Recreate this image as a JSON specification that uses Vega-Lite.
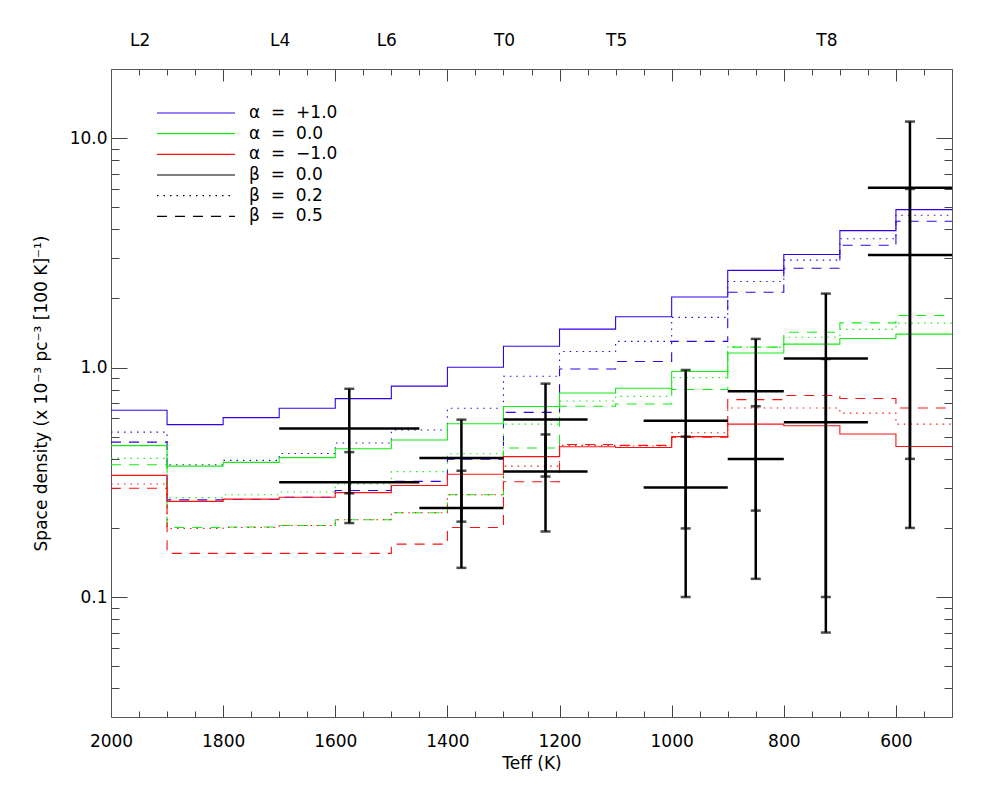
{
  "$schema": "https://vega.github.io/schema/vega-lite/v6.json",
  "width": 841,
  "height": 648,
  "padding": {"left": 32, "top": 31, "right": 24, "bottom": 6},
  "background": "white",
  "config": {
    "font": "DejaVu Sans",
    "view": {"stroke": null},
    "axis": {
      "grid": false,
      "domainColor": "#555555",
      "domainWidth": 1,
      "tickColor": "#444444",
      "tickWidth": 1,
      "labelColor": "black",
      "labelFontSize": 17,
      "labelFont": "DejaVu Sans",
      "titleFont": "DejaVu Sans",
      "titleFontSize": 17,
      "titleFontWeight": "normal",
      "titleColor": "black",
      "labelOverlap": false,
      "labelFlush": false
    },
    "legend": {
      "labelFont": "DejaVu Sans",
      "labelFontSize": 17,
      "labelColor": "black"
    }
  },
  "datasets": {
    "hist": [
      {"a": "+1.0", "b": "0.0", "t": 2000, "v": 0.651}, {"a": "+1.0", "b": "0.0", "t": 1900, "v": 0.564}, {"a": "+1.0", "b": "0.0", "t": 1800, "v": 0.605}, {"a": "+1.0", "b": "0.0", "t": 1700, "v": 0.665}, {"a": "+1.0", "b": "0.0", "t": 1600, "v": 0.732}, {"a": "+1.0", "b": "0.0", "t": 1500, "v": 0.83}, {"a": "+1.0", "b": "0.0", "t": 1400, "v": 1.003}, {"a": "+1.0", "b": "0.0", "t": 1300, "v": 1.239}, {"a": "+1.0", "b": "0.0", "t": 1200, "v": 1.47}, {"a": "+1.0", "b": "0.0", "t": 1100, "v": 1.664}, {"a": "+1.0", "b": "0.0", "t": 1000, "v": 2.03}, {"a": "+1.0", "b": "0.0", "t": 900, "v": 2.65}, {"a": "+1.0", "b": "0.0", "t": 800, "v": 3.11}, {"a": "+1.0", "b": "0.0", "t": 700, "v": 3.95}, {"a": "+1.0", "b": "0.0", "t": 600, "v": 4.88}, {"a": "+1.0", "b": "0.0", "t": 500, "v": 4.88},
      {"a": "+1.0", "b": "0.2", "t": 2000, "v": 0.523}, {"a": "+1.0", "b": "0.2", "t": 1900, "v": 0.377}, {"a": "+1.0", "b": "0.2", "t": 1800, "v": 0.394}, {"a": "+1.0", "b": "0.2", "t": 1700, "v": 0.422}, {"a": "+1.0", "b": "0.2", "t": 1600, "v": 0.469}, {"a": "+1.0", "b": "0.2", "t": 1500, "v": 0.534}, {"a": "+1.0", "b": "0.2", "t": 1400, "v": 0.665}, {"a": "+1.0", "b": "0.2", "t": 1300, "v": 0.916}, {"a": "+1.0", "b": "0.2", "t": 1200, "v": 1.174}, {"a": "+1.0", "b": "0.2", "t": 1100, "v": 1.30}, {"a": "+1.0", "b": "0.2", "t": 1000, "v": 1.654}, {"a": "+1.0", "b": "0.2", "t": 900, "v": 2.37}, {"a": "+1.0", "b": "0.2", "t": 800, "v": 2.94}, {"a": "+1.0", "b": "0.2", "t": 700, "v": 3.64}, {"a": "+1.0", "b": "0.2", "t": 600, "v": 4.61}, {"a": "+1.0", "b": "0.2", "t": 500, "v": 4.61},
      {"a": "+1.0", "b": "0.5", "t": 2000, "v": 0.473}, {"a": "+1.0", "b": "0.5", "t": 1900, "v": 0.265}, {"a": "+1.0", "b": "0.5", "t": 1800, "v": 0.266}, {"a": "+1.0", "b": "0.5", "t": 1700, "v": 0.272}, {"a": "+1.0", "b": "0.5", "t": 1600, "v": 0.291}, {"a": "+1.0", "b": "0.5", "t": 1500, "v": 0.319}, {"a": "+1.0", "b": "0.5", "t": 1400, "v": 0.399}, {"a": "+1.0", "b": "0.5", "t": 1300, "v": 0.638}, {"a": "+1.0", "b": "0.5", "t": 1200, "v": 0.986}, {"a": "+1.0", "b": "0.5", "t": 1100, "v": 1.062}, {"a": "+1.0", "b": "0.5", "t": 1000, "v": 1.30}, {"a": "+1.0", "b": "0.5", "t": 900, "v": 2.13}, {"a": "+1.0", "b": "0.5", "t": 800, "v": 2.71}, {"a": "+1.0", "b": "0.5", "t": 700, "v": 3.41}, {"a": "+1.0", "b": "0.5", "t": 600, "v": 4.34}, {"a": "+1.0", "b": "0.5", "t": 500, "v": 4.34},
      {"a": "0.0", "b": "0.0", "t": 2000, "v": 0.457}, {"a": "0.0", "b": "0.0", "t": 1900, "v": 0.372}, {"a": "0.0", "b": "0.0", "t": 1800, "v": 0.386}, {"a": "0.0", "b": "0.0", "t": 1700, "v": 0.405}, {"a": "0.0", "b": "0.0", "t": 1600, "v": 0.443}, {"a": "0.0", "b": "0.0", "t": 1500, "v": 0.483}, {"a": "0.0", "b": "0.0", "t": 1400, "v": 0.569}, {"a": "0.0", "b": "0.0", "t": 1300, "v": 0.676}, {"a": "0.0", "b": "0.0", "t": 1200, "v": 0.775}, {"a": "0.0", "b": "0.0", "t": 1100, "v": 0.812}, {"a": "0.0", "b": "0.0", "t": 1000, "v": 0.961}, {"a": "0.0", "b": "0.0", "t": 900, "v": 1.158}, {"a": "0.0", "b": "0.0", "t": 800, "v": 1.265}, {"a": "0.0", "b": "0.0", "t": 700, "v": 1.339}, {"a": "0.0", "b": "0.0", "t": 600, "v": 1.398}, {"a": "0.0", "b": "0.0", "t": 500, "v": 1.398},
      {"a": "0.0", "b": "0.2", "t": 2000, "v": 0.402}, {"a": "0.0", "b": "0.2", "t": 1900, "v": 0.271}, {"a": "0.0", "b": "0.2", "t": 1800, "v": 0.279}, {"a": "0.0", "b": "0.2", "t": 1700, "v": 0.287}, {"a": "0.0", "b": "0.2", "t": 1600, "v": 0.311}, {"a": "0.0", "b": "0.2", "t": 1500, "v": 0.352}, {"a": "0.0", "b": "0.2", "t": 1400, "v": 0.421}, {"a": "0.0", "b": "0.2", "t": 1300, "v": 0.567}, {"a": "0.0", "b": "0.2", "t": 1200, "v": 0.715}, {"a": "0.0", "b": "0.2", "t": 1100, "v": 0.749}, {"a": "0.0", "b": "0.2", "t": 1000, "v": 0.904}, {"a": "0.0", "b": "0.2", "t": 900, "v": 1.227}, {"a": "0.0", "b": "0.2", "t": 800, "v": 1.356}, {"a": "0.0", "b": "0.2", "t": 700, "v": 1.466}, {"a": "0.0", "b": "0.2", "t": 600, "v": 1.561}, {"a": "0.0", "b": "0.2", "t": 500, "v": 1.561},
      {"a": "0.0", "b": "0.5", "t": 2000, "v": 0.377}, {"a": "0.0", "b": "0.5", "t": 1900, "v": 0.201}, {"a": "0.0", "b": "0.5", "t": 1800, "v": 0.202}, {"a": "0.0", "b": "0.5", "t": 1700, "v": 0.205}, {"a": "0.0", "b": "0.5", "t": 1600, "v": 0.217}, {"a": "0.0", "b": "0.5", "t": 1500, "v": 0.233}, {"a": "0.0", "b": "0.5", "t": 1400, "v": 0.279}, {"a": "0.0", "b": "0.5", "t": 1300, "v": 0.446}, {"a": "0.0", "b": "0.5", "t": 1200, "v": 0.678}, {"a": "0.0", "b": "0.5", "t": 1100, "v": 0.694}, {"a": "0.0", "b": "0.5", "t": 1000, "v": 0.802}, {"a": "0.0", "b": "0.5", "t": 900, "v": 1.227}, {"a": "0.0", "b": "0.5", "t": 800, "v": 1.426}, {"a": "0.0", "b": "0.5", "t": 700, "v": 1.566}, {"a": "0.0", "b": "0.5", "t": 600, "v": 1.687}, {"a": "0.0", "b": "0.5", "t": 500, "v": 1.687},
      {"a": "−1.0", "b": "0.0", "t": 2000, "v": 0.339}, {"a": "−1.0", "b": "0.0", "t": 1900, "v": 0.261}, {"a": "−1.0", "b": "0.0", "t": 1800, "v": 0.267}, {"a": "−1.0", "b": "0.0", "t": 1700, "v": 0.272}, {"a": "−1.0", "b": "0.0", "t": 1600, "v": 0.285}, {"a": "−1.0", "b": "0.0", "t": 1500, "v": 0.306}, {"a": "−1.0", "b": "0.0", "t": 1400, "v": 0.343}, {"a": "−1.0", "b": "0.0", "t": 1300, "v": 0.409}, {"a": "−1.0", "b": "0.0", "t": 1200, "v": 0.452}, {"a": "−1.0", "b": "0.0", "t": 1100, "v": 0.448}, {"a": "−1.0", "b": "0.0", "t": 1000, "v": 0.50}, {"a": "−1.0", "b": "0.0", "t": 900, "v": 0.567}, {"a": "−1.0", "b": "0.0", "t": 800, "v": 0.558}, {"a": "−1.0", "b": "0.0", "t": 700, "v": 0.513}, {"a": "−1.0", "b": "0.0", "t": 600, "v": 0.453}, {"a": "−1.0", "b": "0.0", "t": 500, "v": 0.453},
      {"a": "−1.0", "b": "0.2", "t": 2000, "v": 0.311}, {"a": "−1.0", "b": "0.2", "t": 1900, "v": 0.199}, {"a": "−1.0", "b": "0.2", "t": 1800, "v": 0.201}, {"a": "−1.0", "b": "0.2", "t": 1700, "v": 0.205}, {"a": "−1.0", "b": "0.2", "t": 1600, "v": 0.217}, {"a": "−1.0", "b": "0.2", "t": 1500, "v": 0.233}, {"a": "−1.0", "b": "0.2", "t": 1400, "v": 0.279}, {"a": "−1.0", "b": "0.2", "t": 1300, "v": 0.372}, {"a": "−1.0", "b": "0.2", "t": 1200, "v": 0.458}, {"a": "−1.0", "b": "0.2", "t": 1100, "v": 0.455}, {"a": "−1.0", "b": "0.2", "t": 1000, "v": 0.52}, {"a": "−1.0", "b": "0.2", "t": 900, "v": 0.666}, {"a": "−1.0", "b": "0.2", "t": 800, "v": 0.666}, {"a": "−1.0", "b": "0.2", "t": 700, "v": 0.633}, {"a": "−1.0", "b": "0.2", "t": 600, "v": 0.567}, {"a": "−1.0", "b": "0.2", "t": 500, "v": 0.567},
      {"a": "−1.0", "b": "0.5", "t": 2000, "v": 0.298}, {"a": "−1.0", "b": "0.5", "t": 1900, "v": 0.155}, {"a": "−1.0", "b": "0.5", "t": 1800, "v": 0.155}, {"a": "−1.0", "b": "0.5", "t": 1700, "v": 0.155}, {"a": "−1.0", "b": "0.5", "t": 1600, "v": 0.155}, {"a": "−1.0", "b": "0.5", "t": 1500, "v": 0.170}, {"a": "−1.0", "b": "0.5", "t": 1400, "v": 0.201}, {"a": "−1.0", "b": "0.5", "t": 1300, "v": 0.318}, {"a": "−1.0", "b": "0.5", "t": 1200, "v": 0.462}, {"a": "−1.0", "b": "0.5", "t": 1100, "v": 0.458}, {"a": "−1.0", "b": "0.5", "t": 1000, "v": 0.497}, {"a": "−1.0", "b": "0.5", "t": 900, "v": 0.725}, {"a": "−1.0", "b": "0.5", "t": 800, "v": 0.755}, {"a": "−1.0", "b": "0.5", "t": 700, "v": 0.733}, {"a": "−1.0", "b": "0.5", "t": 600, "v": 0.666}, {"a": "−1.0", "b": "0.5", "t": 500, "v": 0.666}
    ],
    "pts": [
      {"t": 1575, "t1": 1700, "t2": 1450, "v": 0.543, "lo": 0.283, "hi": 0.808},
      {"t": 1575, "t1": 1700, "t2": 1450, "v": 0.316, "lo": 0.210, "hi": 0.428},
      {"t": 1375, "t1": 1450, "t2": 1300, "v": 0.403, "lo": 0.213, "hi": 0.593},
      {"t": 1375, "t1": 1450, "t2": 1300, "v": 0.244, "lo": 0.134, "hi": 0.355},
      {"t": 1225, "t1": 1300, "t2": 1150, "v": 0.593, "lo": 0.335, "hi": 0.851},
      {"t": 1225, "t1": 1300, "t2": 1150, "v": 0.352, "lo": 0.193, "hi": 0.511},
      {"t": 975, "t1": 1050, "t2": 900, "v": 0.587, "lo": 0.199, "hi": 0.976},
      {"t": 975, "t1": 1050, "t2": 900, "v": 0.300, "lo": 0.100, "hi": 0.500},
      {"t": 850, "t1": 900, "t2": 800, "v": 0.788, "lo": 0.238, "hi": 1.333},
      {"t": 850, "t1": 900, "t2": 800, "v": 0.399, "lo": 0.120, "hi": 0.678},
      {"t": 725, "t1": 800, "t2": 650, "v": 1.095, "lo": 0.100, "hi": 2.10},
      {"t": 725, "t1": 800, "t2": 650, "v": 0.578, "lo": 0.070, "hi": 1.09},
      {"t": 575, "t1": 650, "t2": 500, "v": 6.07, "lo": 0.40, "hi": 11.8},
      {"t": 575, "t1": 650, "t2": 500, "v": 3.09, "lo": 0.20, "hi": 6.0}
    ]
  },
  "layer": [
    {
      "data": {"name": "hist"},
      "mark": {"type": "line", "interpolate": "step-after", "strokeWidth": 1.1, "clip": true},
      "encoding": {
        "x": {
          "field": "t", "type": "quantitative",
          "scale": {"domain": [500, 2000], "reverse": true, "nice": false, "zero": false},
          "axis": {
            "orient": "bottom",
            "title": "Teff (K)",
            "titlePadding": 0,
            "values": [500, 550, 600, 650, 700, 750, 800, 850, 900, 950, 1000, 1050, 1100, 1150, 1200, 1250, 1300, 1350, 1400, 1450, 1500, 1550, 1600, 1650, 1700, 1750, 1800, 1850, 1900, 1950, 2000],
            "labelExpr": "datum.value % 200 === 0 ? format(datum.value, 'd') : ''",
            "tickSize": {"condition": {"test": "datum.value % 200 === 0", "value": -12}, "value": -6},
            "labelPadding": 28
          }
        },
        "y": {
          "field": "v", "type": "quantitative",
          "scale": {"type": "log", "domain": [0.03, 20], "nice": false},
          "axis": {
            "orient": "left",
            "title": "Space density (x 10⁻³ pc⁻³ [100 K]⁻¹)",
            "titlePadding": 19,
            "values": [0.04, 0.05, 0.06, 0.07, 0.08, 0.09, 0.1, 0.2, 0.3, 0.4, 0.5, 0.6, 0.7, 0.8, 0.9, 1, 2, 3, 4, 5, 6, 7, 8, 9, 10],
            "labelExpr": "datum.value === 0.1 ? '0.1' : datum.value === 1 ? '1.0' : datum.value === 10 ? '10.0' : ''",
            "tickSize": {"condition": {"test": "datum.value === 0.1 || datum.value === 1 || datum.value === 10", "value": -16}, "value": -8},
            "labelPadding": 20
          }
        },
        "color": {
          "field": "a", "type": "nominal",
          "scale": {"domain": ["+1.0", "0.0", "−1.0"], "range": ["#3300ee", "#11ee11", "#ff1111"]},
          "legend": {
            "orient": "none", "legendX": 74, "legendY": 33,
            "title": null,
            "symbolType": "M-3.9,0H3.9", "symbolSize": 400, "symbolStrokeWidth": 1.2,
            "rowPadding": 1.7,
            "labelOffset": 42,
            "labelExpr": "'α\u00a0\u00a0=\u00a0\u00a0' + datum.label"
          }
        },
        "strokeDash": {
          "field": "b", "type": "nominal",
          "scale": {"domain": ["0.0", "0.2", "0.5"], "range": [[1, 0], [1.5, 5], [10, 8]]},
          "legend": {
            "orient": "none", "legendX": 74, "legendY": 95,
            "title": null,
            "symbolType": "M-3.9,0H3.9", "symbolSize": 400, "symbolStrokeWidth": 1.2,
            "symbolStrokeColor": "black",
            "rowPadding": 1.7,
            "labelOffset": 42,
            "labelExpr": "'β\u00a0\u00a0=\u00a0\u00a0' + datum.label"
          }
        }
      }
    },
    {
      "data": {"name": "pts"},
      "mark": {"type": "rule", "strokeWidth": 2.5, "color": "black"},
      "encoding": {
        "x": {
          "field": "t1", "type": "quantitative",
          "axis": {
            "orient": "top",
            "title": null,
            "values": [500, 550, 600, 650, 700, 724, 750, 800, 850, 900, 950, 1000, 1050, 1099, 1100, 1150, 1200, 1250, 1299, 1300, 1350, 1400, 1450, 1500, 1509, 1550, 1600, 1650, 1699, 1700, 1750, 1800, 1850, 1900, 1949, 1950, 2000],
            "labelExpr": "datum.value === 1949 ? 'L2' : datum.value === 1699 ? 'L4' : datum.value === 1509 ? 'L6' : datum.value === 1299 ? 'T0' : datum.value === 1099 ? 'T5' : datum.value === 724 ? 'T8' : ''",
            "tickOpacity": {"condition": {"test": "datum.value % 50 !== 0", "value": 0}, "value": 1},
            "tickSize": {"condition": {"test": "datum.value % 200 === 0", "value": -12}, "value": -6},
            "labelPadding": 26
          }
        },
        "x2": {"field": "t2"},
        "y": {
          "field": "v", "type": "quantitative",
          "axis": {
            "orient": "right",
            "title": null,
            "labels": false,
            "values": [0.04, 0.05, 0.06, 0.07, 0.08, 0.09, 0.1, 0.2, 0.3, 0.4, 0.5, 0.6, 0.7, 0.8, 0.9, 1, 2, 3, 4, 5, 6, 7, 8, 9, 10],
            "tickSize": {"condition": {"test": "datum.value === 0.1 || datum.value === 1 || datum.value === 10", "value": -16}, "value": -8}
          }
        }
      }
    },
    {
      "data": {"name": "pts"},
      "mark": {"type": "rule", "strokeWidth": 2.5, "color": "black"},
      "encoding": {
        "x": {"field": "t", "type": "quantitative", "axis": null},
        "y": {"field": "lo", "type": "quantitative", "axis": null},
        "y2": {"field": "hi"}
      }
    },
    {
      "data": {"name": "pts"},
      "transform": [{"fold": ["lo", "hi"], "as": ["end", "ev"]}],
      "mark": {"type": "tick", "orient": "horizontal", "size": 10, "thickness": 2.5, "color": "black"},
      "encoding": {
        "x": {"field": "t", "type": "quantitative", "axis": null},
        "y": {"field": "ev", "type": "quantitative", "axis": null}
      }
    }
  ],
  "resolve": {"axis": {"x": "independent", "y": "independent"}}
}
